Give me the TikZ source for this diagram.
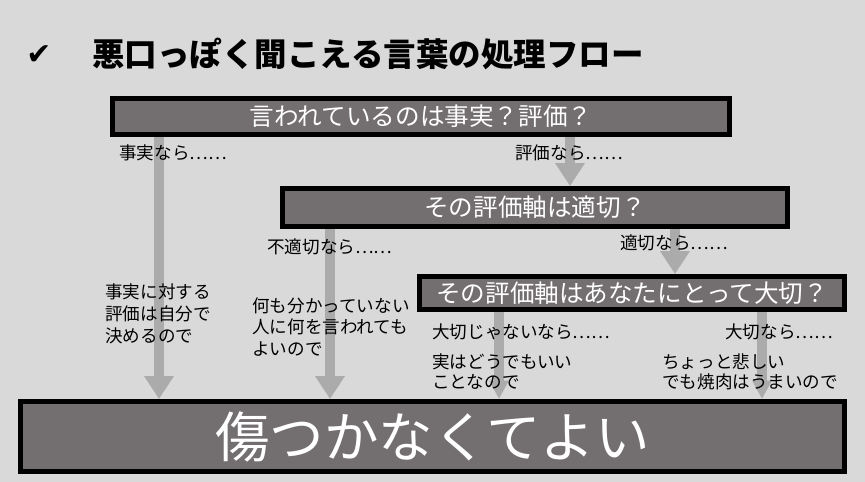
\documentclass[tikz,border=0pt]{standalone}
\usepackage{fontspec}
\setmainfont{Noto Sans CJK JP}
\newfontfamily\symfont{DejaVu Sans}
\usetikzlibrary{arrows.meta}

\definecolor{bggray}{HTML}{D9D9D9}
\definecolor{boxgray}{HTML}{736E6F}
\definecolor{flowgray}{HTML}{ABABAB}

\pgfdeclarelayer{back}
\pgfsetlayers{back,main}

\tikzset{
  question/.style={draw=black, line width=2.8pt, fill=boxgray, text=white,
    inner sep=0pt, font=\fontsize{14}{16}\selectfont},
  flow/.style={draw=flowgray, line width=6.2pt,
    -{Triangle[width=16pt,length=13pt]}},
  shortflow/.style={flow, -{Triangle[width=10.5pt,length=10.5pt]}},
  note/.style={anchor=west, inner sep=0pt, align=left,
    font=\fontsize{10}{12.4}\selectfont},
}

\begin{document}
\begin{tikzpicture}[x=0.02cm, y=-0.02cm]

   \useasboundingbox (0,0) rectangle (865,482);

   % title
   \node[font=\symfont\bfseries\fontsize{17}{19}\selectfont] (check) at (39,55) {✔};
   \node[anchor=west, inner sep=0pt, font=\fontsize{18.5}{20}\selectfont\bfseries]
      (title) at (92,54) {悪口っぽく聞こえる言葉の処理フロー};

   % questions
   \node[question, minimum width=12.34cm, minimum height=0.72cm] (q1) at (421,116.5)
      {言われているのは事実？評価？};
   \node[question, minimum width=10.1cm, minimum height=0.76cm] (q2) at (535,207.5)
      {その評価軸は適切？};
   \node[question, minimum width=8.5cm, minimum height=0.66cm] (q3) at (632,293)
      {その評価軸はあなたにとって大切？};
   \node[question, minimum width=16.48cm, minimum height=1.4cm,
      font=\fontsize{31}{34}\selectfont] (res) at (432.5,436.5) {傷つかなくてよい};

   % branch labels
   \node[note] (fact) at (119,153) {事実なら……};
   \node[note] (eval) at (515,153) {評価なら……};
   \node[note] (unfit) at (267,247) {不適切なら……};
   \node[note] (fit) at (620,243) {適切なら……};
   \node[note] (minor) at (432,332) {大切じゃないなら……};
   \node[note] (major) at (725,332) {大切なら……};

   % reasons
   \node[note, font=\fontsize{10}{12.6}\selectfont] (why1) at (105,314)
      {事実に対する\\評価は自分で\\決めるので};
   \node[note, font=\fontsize{10}{12.1}\selectfont] (why2) at (252,327)
      {何も分かっていない\\人に何を言われても\\よいので};
   \node[note, font=\fontsize{10}{11.4}\selectfont] (why3) at (432,372)
      {実はどうでもいい\\ことなので};
   \node[note, font=\fontsize{10}{11.4}\selectfont] (why4) at (662,372)
      {ちょっと悲しい\\でも焼肉はうまいので};

   \begin{pgfonlayer}{back}
   \fill[bggray] (0,0) rectangle (865,482);

   \draw[flow] (q1.south -| 159,0) -- (res.north -| 159,0);
   \draw[flow] (q1.south -| 570,0) -- (q2.north -| 570,0);
   \draw[flow] (q2.south -| 330,0) -- (res.north -| 330,0);
   \draw[flow] (q2.south -| 675,0) -- (q3.north -| 675,0);
   \draw[shortflow] (q3.south -| 499,0) -- (res.north -| 499,0);
   \draw[shortflow] (q3.south -| 762,0) -- (res.north -| 762,0);
   \end{pgfonlayer}

\end{tikzpicture}
\end{document}
